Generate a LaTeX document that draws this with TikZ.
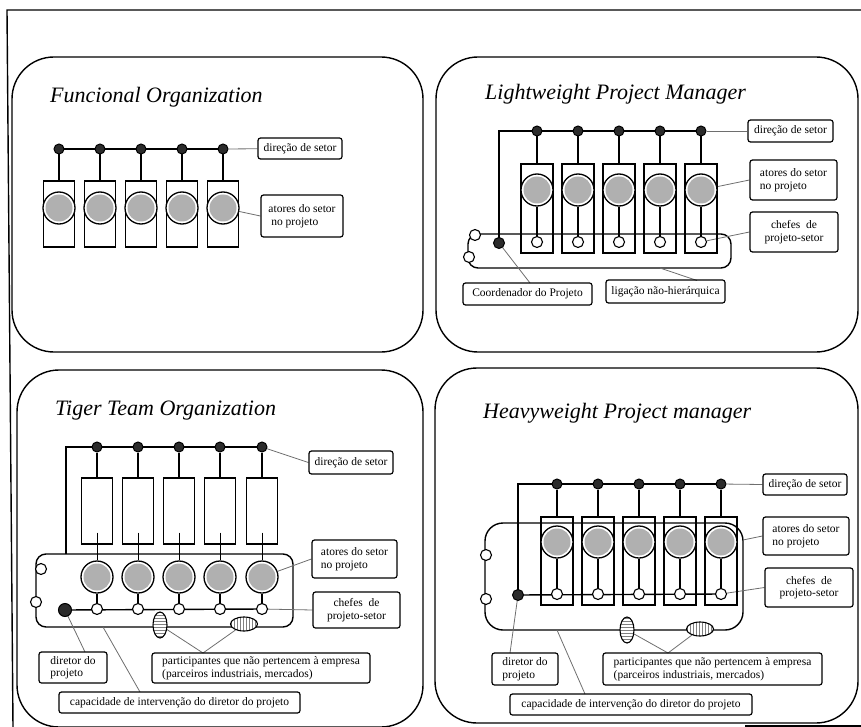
\documentclass[tikz,border=0pt]{standalone}
\usepackage{fontspec}
\setmainfont{Liberation Serif}
\usetikzlibrary{shapes.geometric,patterns,backgrounds}
\definecolor{hubfill}{HTML}{2B2B2B}
\definecolor{actorfill}{HTML}{B0B0B0}
\definecolor{leadgray}{HTML}{6E6E6E}

\tikzset{
  panel/.style={draw, line width=1.4pt, rounded corners=42pt},
  frame/.style={draw, line width=1.4pt},
  wire/.style={draw, line width=1.4pt},
  thinwire/.style={draw, line width=0.9pt},
  lead/.style={draw=leadgray, line width=0.8pt},
  hub/.style={circle, draw, line width=1pt, fill=hubfill, minimum size=10pt, inner sep=0pt},
  chief/.style={circle, draw, line width=1.1pt, fill=white, minimum size=11pt, inner sep=0pt},
  actor/.style={circle, draw, line width=1.3pt, fill=white, minimum size=32pt, inner sep=0pt,
    path picture={\fill[actorfill] (path picture bounding box.center) circle (13.5pt);}},
  unitbox/.style={rectangle, draw, line width=1.2pt, minimum width=31pt, inner sep=0pt},
  lbl/.style={rectangle, draw, line width=1.2pt, rounded corners=2.5pt, inner sep=0pt,
    font=\fontsize{11.5}{12.5}\selectfont, align=left},
  title/.style={anchor=base west, font=\fontsize{22}{25}\selectfont\itshape, inner sep=0pt},
  guest/.style={ellipse, draw, line width=1.1pt, inner sep=0pt, preaction={fill=white}},
}

\begin{document}
\begin{tikzpicture}[x=1pt, y=-1pt]
\useasboundingbox (0,0) rectangle (861,727);

% page frame
\draw[frame] (13,727) -- (7,10) -- (861,10);
\draw[frame] (745,726) -- (861,726);

% the four panels
\draw[panel] (12,57) rectangle (423,352);
\draw[panel] (436,57) rectangle (858,352);
\draw[panel] (17,370) rectangle (423,727);
\draw[panel] (435,368) rectangle (858,723);

% ---------------- Funcional Organization ----------------
\node[title] (a-title) at (50,103) {Funcional Organization};
\foreach \i/\x in {1/59,2/100,3/141,4/182,5/223} {
  \node[hub] (a-h\i) at (\x,149) {};
  \node[unitbox, minimum height=66pt] (a-r\i) at (\x,214) {};
  \node[actor] (a-c\i) at (\x,208) {};
}
\node[lbl, minimum width=84pt, minimum height=21pt] (a-ldir) at (300,148.5) {direção de setor};
\node[lbl, minimum width=82pt, minimum height=42pt] (a-lact) at (302,216) {atores do setor\\\ no projeto};

% ---------------- Lightweight Project Manager ----------------
\node[title] (b-title) at (485,100) {Lightweight Project Manager};
\foreach \i/\x in {1/537,2/578,3/619,4/660,5/701} {
  \node[hub] (b-h\i) at (\x,131) {};
  \node[unitbox, minimum height=89pt, minimum width=32pt] (b-r\i) at (\x,208.5) {};
  \node[actor] (b-c\i) at (\x,190) {};
  \node[chief] (b-s\i) at (\x,242) {};
}
\node[hub, minimum size=11pt] (b-cor) at (499,243) {};
\node[chief] (b-o1) at (475,235) {};
\node[chief] (b-o2) at (469,257) {};
\node[lbl, minimum width=85pt, minimum height=22pt] (b-ldir) at (790.5,131) {direção de setor};
\node[lbl, minimum width=87pt, minimum height=40pt] (b-lact) at (793.5,180) {atores do setor\\no projeto};
\node[lbl, minimum width=88pt, minimum height=40pt, align=center] (b-lche) at (794,232) {chefes\ \ de\\projeto-setor};
\node[lbl, minimum width=129pt, minimum height=22pt] (b-lcor) at (527.5,294) {Coordenador do Projeto};
\node[lbl, minimum width=119pt, minimum height=23pt] (b-llig) at (665.5,291.5) {ligação não-hierárquica};
\coordinate (b-corin) at (530,283);
\coordinate (b-ligout) at (660,268);
\coordinate (b-ligin) at (697,280.5);

% ---------------- Tiger Team Organization ----------------
\node[title] (c-title) at (55,415) {Tiger Team Organization};
\foreach \i/\x in {1/97,2/138,3/179,4/220,5/262} {
  \node[hub] (c-h\i) at (\x,447) {};
  \node[unitbox, minimum height=66pt] (c-r\i) at (\x,511) {};
  \node[actor] (c-c\i) at (\x,577) {};
  \node[chief] (c-s\i) at (\x,609) {};
}
\node[hub, minimum size=13pt] (c-dir) at (65,610) {};
\node[chief] (c-o1) at (41,569) {};
\node[chief] (c-o2) at (36,602) {};
\node[guest, minimum width=14pt, minimum height=26pt, pattern=horizontal lines, pattern color=gray] (c-g1) at (160,625) {};
\node[guest, minimum width=27pt, minimum height=14pt, pattern=vertical lines, pattern color=gray] (c-g2) at (244,624) {};
\node[lbl, minimum width=84pt, minimum height=23pt] (c-ldir) at (351,462.5) {direção de setor};
\node[lbl, minimum width=85pt, minimum height=38pt] (c-lact) at (354.5,559) {atores do setor\\no projeto};
\node[lbl, minimum width=87pt, minimum height=36pt, align=center] (c-lche) at (356.5,610) {chefes\ \ de\\projeto-setor};
\node[lbl, minimum width=68pt, minimum height=31pt] (c-ldr) at (73,667.5) {diretor do\\projeto};
\node[lbl, minimum width=218pt, minimum height=30pt] (c-lpar) at (261,668) {participantes que não pertencem à empresa\\(parceiros industriais, mercados)};
\node[lbl, minimum width=241pt, minimum height=21pt] (c-lcap) at (179.5,702.5) {capacidade de intervenção do diretor do projeto};
\coordinate (c-tap) at (66,554);
\coordinate (c-drin) at (85,652);
\coordinate (c-parin) at (203,653);
\coordinate (c-capout) at (103,627);
\coordinate (c-capin) at (140,692);

% ---------------- Heavyweight Project manager ----------------
\node[title] (d-title) at (483,418) {Heavyweight Project manager};
\foreach \i/\x in {1/557,2/598,3/639,4/680,5/721} {
  \node[hub] (d-h\i) at (\x,484) {};
  \node[unitbox, minimum height=88pt, minimum width=32pt] (d-r\i) at (\x,561) {};
  \node[actor] (d-c\i) at (\x,542) {};
  \node[chief] (d-s\i) at (\x,594) {};
}
\node[hub, minimum size=11pt] (d-dir) at (518,595) {};
\node[chief] (d-o1) at (486,555) {};
\node[chief] (d-o2) at (486,599) {};
\node[guest, minimum width=14pt, minimum height=26pt, pattern=horizontal lines, pattern color=gray] (d-g1) at (627,630) {};
\node[guest, minimum width=27pt, minimum height=14pt, pattern=vertical lines, pattern color=gray] (d-g2) at (700,629) {};
\node[lbl, minimum width=84pt, minimum height=21pt] (d-ldir) at (805,484.5) {direção de setor};
\node[lbl, minimum width=86pt, minimum height=38pt] (d-lact) at (806,536) {atores do setor\\no projeto};
\node[lbl, minimum width=88pt, minimum height=39pt, align=center] (d-lche) at (809,587.5) {chefes\ \ de\\projeto-setor};
\node[lbl, minimum width=66pt, minimum height=32pt] (d-ldr) at (525,669) {diretor do\\projeto};
\node[lbl, minimum width=219pt, minimum height=32pt] (d-lpar) at (712.5,669) {participantes que não pertencem à empresa\\(parceiros industriais, mercados)};
\node[lbl, minimum width=242pt, minimum height=21pt] (d-lcap) at (631,704.5) {capacidade de intervenção do diretor do projeto};
\coordinate (d-actout) at (743,540);
\coordinate (d-drin) at (510,653);
\coordinate (d-parin) at (668,653);
\coordinate (d-capout) at (557,630);
\coordinate (d-capin) at (585,694);

% ---------------- wiring, kept under the nodes ----------------
\begin{scope}[on background layer]
  % functional
  \draw[wire] (a-h1.center) -- (a-h5.center);
  \foreach \i in {1,...,5} { \draw[wire] (a-h\i) -- (a-r\i); }
  \draw[lead] (a-h5) -- (a-ldir);
  \draw[lead] (a-c5) -- (a-lact.west);

  % lightweight
  \draw[wire] (b-cor.center) |- (b-h5.center);
  \foreach \i in {1,...,5} {
    \draw[wire] (b-h\i) -- (b-r\i);
    \draw[wire] (b-c\i) -- (b-s\i);
  }
  \draw[wire, rounded corners=10pt] (468,234) rectangle (731,268);
  \draw[lead] (b-h5) -- (b-ldir);
  \draw[lead] (b-c5) -- (b-lact.west);
  \draw[lead] (b-s5) -- (b-lche.west);
  \draw[lead] (b-cor) -- (b-corin);
  \draw[lead] (b-ligout) -- (b-ligin);

  % tiger team
  \draw[wire] (c-tap) |- (c-h5.center);
  \foreach \i in {1,...,5} {
    \draw[wire] (c-h\i) -- (c-r\i);
    \draw[thinwire] (c-r\i.south) ++(0,-12) -- (c-c\i);
    \draw[wire] (c-c\i) -- (c-s\i);
  }
  \draw[wire] (c-dir.center) -- (c-s5.center);
  \draw[wire, rounded corners=10pt] (36,554) rectangle (293,627);
  \draw[lead] (c-h5) -- (c-ldir.west);
  \draw[lead] (c-c5) -- (c-lact.west);
  \draw[lead] (c-s5) -- (c-lche.west);
  \draw[lead] (c-dir) -- (c-drin);
  \draw[lead] (c-g1) -- (c-parin);
  \draw[lead] (c-g2) -- (c-parin);
  \draw[lead] (c-capout) -- (c-capin);

  % heavyweight
  \draw[wire] (d-dir.center) |- (d-h5.center);
  \foreach \i in {1,...,5} {
    \draw[wire] (d-h\i) -- (d-r\i);
    \draw[wire] (d-c\i) -- (d-s\i);
  }
  \draw[wire] (d-dir.center) -- (d-s5.center);
  \draw[wire, rounded corners=18pt] (485,523) rectangle (743,630);
  \draw[lead] (d-h5) -- (d-ldir.west);
  \draw[lead] (d-actout) -- (d-lact.west);
  \draw[lead] (d-s5) -- (d-lche.west);
  \draw[lead] (d-dir) -- (d-drin);
  \draw[lead] (d-g1) -- (d-parin);
  \draw[lead] (d-g2) -- (d-parin);
  \draw[lead] (d-capout) -- (d-capin);
\end{scope}
\end{tikzpicture}
\end{document}
